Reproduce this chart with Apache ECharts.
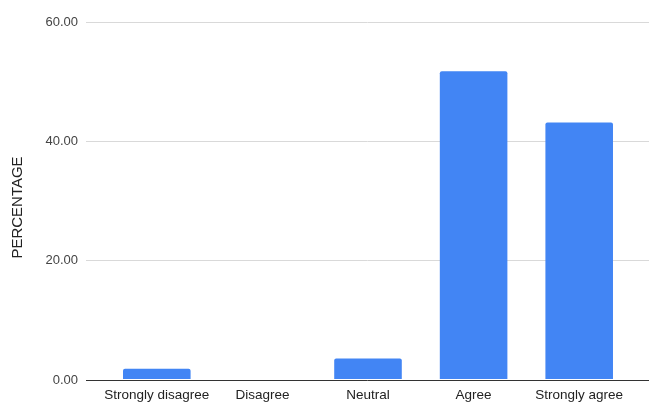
<!DOCTYPE html>
<html>
<head>
<meta charset="utf-8">
<script src="https://cdn.jsdelivr.net/npm/echarts@6/dist/echarts.min.js"></script>
<style>
html,body{margin:0;padding:0;background:#fff;}
#chart{width:649px;height:402px;}
</style>
</head>
<body>
<div id="chart"></div>
<script>
const categories = ["Strongly disagree", "Disagree", "Neutral", "Agree", "Strongly agree"];
const percentages = [1.72, 0, 3.45, 51.72, 43.10];
const yTicks = [0, 20, 40, 60];
const yAxisTitle = "PERCENTAGE";

const chart = echarts.init(document.getElementById('chart'), null, {renderer: 'canvas'});
const fontFam = '"Liberation Sans", Arial, sans-serif';
chart.setOption({
  animation: false,
  graphic: [{
    type: 'text', x: 17.5, y: 207.5, rotation: Math.PI / 2,
    style: {text: yAxisTitle, fill: '#222', font: '15px "Liberation Sans", Arial, sans-serif',
      align: 'center', verticalAlign: 'middle'}
  }],
  grid: [
    {left: 86, right: 0, top: 22, bottom: 22},
    {left: 104, right: 17, top: 22, bottom: 22}
  ],
  xAxis: [
    {gridIndex: 0, type: 'category', data: categories, show: false},
    {gridIndex: 1, type: 'category', data: categories,
      axisLine: {show: false}, axisTick: {show: false},
      axisLabel: {color: '#222', fontSize: 13.5, fontFamily: fontFam, margin: 9, interval: 0}}
  ],
  yAxis: [
    {gridIndex: 0, type: 'value', min: yTicks[0], max: yTicks[yTicks.length-1], interval: 20,
      axisLine: {show: false}, axisTick: {show: false},
      axisLabel: {color: '#444', fontSize: 13, fontFamily: fontFam, margin: 8,
        formatter: v => v.toFixed(2)},
      splitLine: {lineStyle: {color: '#d9d9d9', width: 1}}},
    {gridIndex: 1, type: 'value', min: 0, max: 60, interval: 20, show: false}
  ],
  series: [
    {type: 'line', xAxisIndex: 0, yAxisIndex: 0, data: [], silent: true,
      markLine: {symbol: 'none', silent: true, label: {show: false},
        lineStyle: {color: '#333', width: 1, type: 'solid'}, data: [{yAxis: 0}]}},
    {type: 'bar', xAxisIndex: 1, yAxisIndex: 1, data: percentages, barWidth: '64%',
      itemStyle: {color: '#4285f4', borderRadius: [2, 2, 0, 0]}}
  ]
});
</script>
</body>
</html>
